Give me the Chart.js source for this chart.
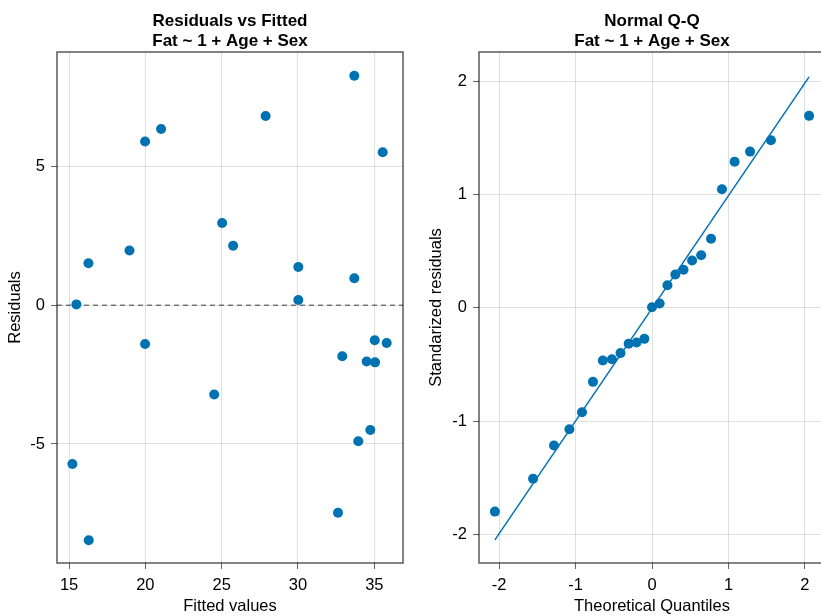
<!DOCTYPE html>
<html>
<head>
<meta charset="utf-8">
<script src="https://cdn.jsdelivr.net/npm/chart.js@4/dist/chart.umd.min.js"></script>
<style>
  html, body { margin: 0; padding: 0; background: #fff; overflow: hidden; width: 821px; height: 616px; }
  #wrapL { position: absolute; left: 0; top: 0; width: 410px; height: 616px; }
  #wrapR { position: absolute; left: 410px; top: 0; width: 430px; height: 616px; }
  canvas { display: block; }
</style>
</head>
<body>
<div id="wrapL"><canvas id="resid" width="410" height="616"></canvas></div>
<div id="wrapR"><canvas id="qq" width="430" height="616"></canvas></div>
<script>
// Residuals vs fitted values
const fittedValues = [33.69, 27.88, 21.03, 19.98, 35.55, 25.03, 25.75, 18.96, 16.27, 30.02, 33.69, 30.02, 15.48,
                      19.98, 35.03, 35.81, 32.90, 34.50, 35.05, 24.51, 34.74, 33.95, 15.22, 32.62, 16.29];
const residuals    = [8.27, 6.82, 6.35, 5.90, 5.51, 2.96, 2.14, 1.97, 1.51, 1.38, 0.97, 0.19, 0.03,
                      -1.40, -1.26, -1.36, -1.84, -2.03, -2.06, -3.22, -4.50, -4.90, -5.72, -7.48, -8.47];
const residXTicks = [15, 20, 25, 30, 35];
const residYTicks = [-5, 0, 5];
const residXRange = [14.21, 36.88];
const residYRange = [-9.29, 9.125];

// Normal Q-Q
const theoreticalQuantiles = [-2.054, -1.555, -1.282, -1.080, -0.915, -0.772, -0.643, -0.524, -0.412, -0.305, -0.202, -0.100, 0,
                              0.100, 0.202, 0.305, 0.412, 0.524, 0.643, 0.772, 0.915, 1.080, 1.282, 1.555, 2.054];
const standardizedResiduals = [-1.80, -1.51, -1.216, -1.072, -0.922, -0.654, -0.465, -0.454, -0.40, -0.318, -0.306, -0.274, 0.005,
                               0.038, 0.20, 0.294, 0.336, 0.418, 0.465, 0.61, 1.048, 1.29, 1.38, 1.48, 1.696];
const refLineX = [-2.054, 2.054];
const refLineY = [-2.05, 2.04];
const qqXTicks = [-2, -1, 0, 1, 2];
const qqYTicks = [-2, -1, 0, 1, 2];
const qqXRange = [-2.262, 2.262];
const qqYRange = [-2.254, 2.26];

const BLUE = 'rgb(0,114,178)';
const FONT = "'Liberation Sans', Arial, sans-serif";
const TICK_FONT = { family: FONT, size: 16.5 };
const GRID = 'rgba(0,0,0,0.12)';

// Two-line bold title centred over the plot area, plus a frame around it
const frameAndTitle = {
  id: 'frameAndTitle',
  afterDraw(chart, args, opts) {
    const { ctx, chartArea: a } = chart;
    ctx.save();
    ctx.strokeStyle = 'rgba(0,0,0,0.65)';
    ctx.lineWidth = 1.5;
    ctx.strokeRect(a.left, a.top, a.right - a.left, a.bottom - a.top);
    ctx.fillStyle = '#000';
    ctx.font = "bold 17px " + FONT;
    ctx.textAlign = 'center';
    ctx.textBaseline = 'alphabetic';
    const cx = (a.left + a.right) / 2;
    opts.lines.forEach((t, i) => ctx.fillText(t, cx, 26 + i * 20));
    ctx.restore();
  }
};

function tickSetter(values) {
  return (scale) => { scale.ticks = values.map(v => ({ value: v })); };
}

function axis(range, ticks, title, titlePad, horizontal, fitSize) {
  return {
    type: 'linear',
    position: horizontal ? 'bottom' : 'left',
    min: range[0],
    max: range[1],
    afterBuildTicks: tickSetter(ticks),
    afterFit: (scale) => { if (horizontal) scale.height = fitSize; else scale.width = fitSize; },
    grid: { color: GRID, lineWidth: 1, drawTicks: true, tickLength: 6, tickColor: 'rgba(0,0,0,0.6)' },
    border: { display: false },
    ticks: { font: TICK_FONT, color: '#000', padding: horizontal ? 7 : 6, maxRotation: 0,
             callback: (v) => String(v) },
    title: { display: true, text: title, font: TICK_FONT, color: '#000', padding: titlePad }
  };
}

new Chart(document.getElementById('resid'), {
  type: 'scatter',
  data: {
    datasets: [
      {
        data: fittedValues.map((x, i) => ({ x, y: residuals[i] })),
        backgroundColor: BLUE, borderWidth: 0, pointRadius: 5, order: 0
      },
      {
        type: 'line',
        data: residXRange.map(x => ({ x, y: 0 })),
        borderColor: 'rgba(0,0,0,0.5)', borderWidth: 1.5, borderDash: [5, 4],
        pointRadius: 0, order: 1
      }
    ]
  },
  options: {
    responsive: false, animation: false, devicePixelRatio: 1,
    layout: { padding: { top: 52, right: 7, left: 0, bottom: 0 } },
    plugins: { legend: { display: false }, tooltip: { enabled: false },
               frameAndTitle: { lines: ['Residuals vs Fitted', 'Fat ~ 1 + Age + Sex'] } },
    scales: {
      x: axis(residXRange, residXTicks, 'Fitted values', { top: 0, bottom: 0 }, true, 53),
      y: axis(residYRange, residYTicks, 'Residuals', { top: 6, bottom: 0 }, false, 57)
    }
  },
  plugins: [frameAndTitle]
});

new Chart(document.getElementById('qq'), {
  type: 'scatter',
  data: {
    datasets: [
      {
        data: theoreticalQuantiles.map((x, i) => ({ x, y: standardizedResiduals[i] })),
        backgroundColor: BLUE, borderWidth: 0, pointRadius: 5, order: 0
      },
      {
        type: 'line',
        data: refLineX.map((x, i) => ({ x, y: refLineY[i] })),
        borderColor: BLUE, borderWidth: 1.5, pointRadius: 0, order: 1
      }
    ]
  },
  options: {
    responsive: false, animation: false, devicePixelRatio: 1,
    layout: { padding: { top: 52, right: 15, left: 0, bottom: 0 } },
    plugins: { legend: { display: false }, tooltip: { enabled: false },
               frameAndTitle: { lines: ['Normal Q-Q', 'Fat ~ 1 + Age + Sex'] } },
    scales: {
      x: axis(qqXRange, qqXTicks, 'Theoretical Quantiles', { top: 0, bottom: 0 }, true, 53),
      y: axis(qqYRange, qqYTicks, 'Standarized residuals', { top: 17, bottom: 0 }, false, 69)
    }
  },
  plugins: [frameAndTitle]
});
</script>
</body>
</html>
